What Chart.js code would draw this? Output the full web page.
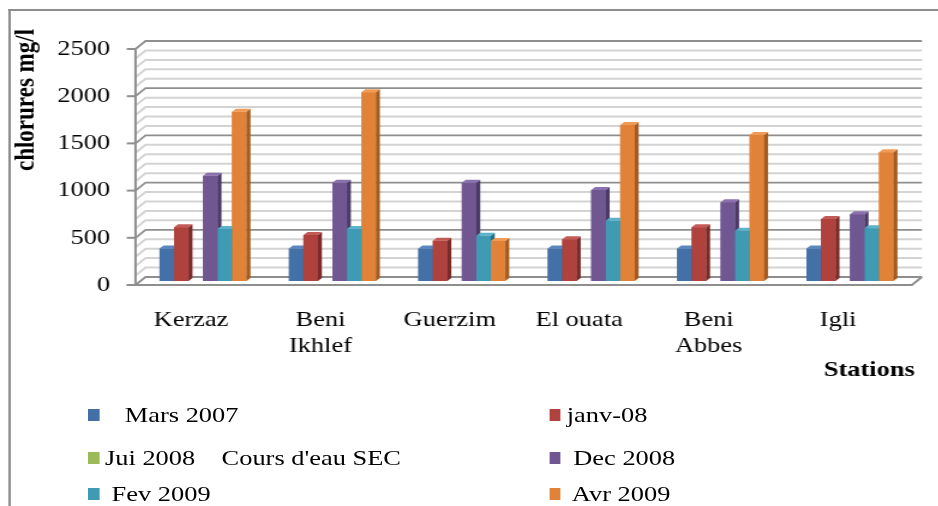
<!DOCTYPE html>
<html>
<head>
<meta charset="utf-8">
<script src="https://cdn.jsdelivr.net/npm/chart.js@4.4.1/dist/chart.umd.min.js"></script>
<style>
html, body { margin: 0; padding: 0; background: #fff; overflow: hidden; }
#wrap { position: relative; width: 782px; height: 506px; transform: scaleX(1.2); transform-origin: 0 0;
        font-family: "Liberation Serif", "Times New Roman", serif; }
#frame { position: absolute; left: 7px; top: 9px; right: -20px; bottom: -20px;
         border-left: 2px solid #8c8c8c; border-top: 2px solid #8c8c8c; }
canvas { position: absolute; left: 0; top: 0; }
.leg { position: absolute; display: flex; align-items: center; height: 26px; line-height: 26px;
       font-size: 22px; white-space: pre; color: #000; }
.leg i { display: inline-block; width: 9.75px; height: 11.7px; margin-right: 5px; }
</style>
</head>
<body>
<div id="wrap">
  <div id="frame"></div>
  <canvas id="chloChart" width="782" height="506"></canvas>
</div>
<script>
// Data
const stations = [['Kerzaz'], ['Beni', 'Ikhlef'], ['Guerzim'], ['El ouata'], ['Beni', 'Abbes'], ['Igli']];
const seriesNames = ['   Mars 2007', 'janv-08', "Jui 2008    Cours d'eau SEC", ' Dec 2008', ' Fev 2009', ' Avr 2009'];
const mars2007 = [345, 345, 345, 345, 345, 345];
const janv2008 = [569, 487, 427, 442, 569, 657];
const jui2008 = [null, null, null, null, null, null]; // cours d'eau sec
const dec2008 = [1115, 1041, 1041, 964, 834, 707];
const fev2009 = [551, 551, 480, 639, 533, 558];
const avr2009 = [1793, 1999, 424, 1653, 1547, 1363];
const yMax = 2500;
const yStep = 500;

// colours: front, side, top
const fronts = ['#4470a8', '#b0423e', '#9bbb59', '#715791', '#3f9ab3', '#e08339'];
const sides  = ['#2e4f7c', '#7a2b29', '#6c8a3a', '#4b3967', '#2a6c80', '#a55b1f'];
const tops   = ['#5b87bf', '#c45a56', '#afcc74', '#8a70ad', '#5bb2cb', '#f09b55'];

const FONT = '"Liberation Serif", "Times New Roman", serif';
Chart.defaults.font.family = FONT;
Chart.defaults.color = '#000';

const BACK_DX = 6, BACK_DY = -4, FRONT_DX = -2.35, FRONT_DY = 4;
const BAR_DX = 3.3, BAR_DY = 3;

// walls, floor and the fake 3D on the bars
const depth3d = {
    id: 'depth3d',
    beforeDatasetsDraw(chart) {
        const {ctx, chartArea: a, scales: {y}} = chart;
        const bL = a.left + BACK_DX, bR = a.right + BACK_DX;
        const fL = a.left + FRONT_DX, fR = a.right + FRONT_DX;
        ctx.save();
        ctx.lineCap = 'butt';
        for (let v = 0; v <= yMax; v += 100) {
            const py = y.getPixelForValue(v);
            const major = v % yStep === 0;
            ctx.strokeStyle = major ? '#8e8e8e' : '#d3d3d3';
            ctx.lineWidth = major ? 1.8 : 2;
            ctx.beginPath();
            ctx.moveTo(fL, py + FRONT_DY);
            ctx.lineTo(bL, py + BACK_DY);
            ctx.lineTo(bR, py + BACK_DY);
            ctx.stroke();
        }
        const p0 = y.getPixelForValue(0);
        const pTop = y.getPixelForValue(yMax);
        ctx.strokeStyle = '#8e8e8e';
        ctx.lineWidth = 2;
        // floor front edge and right side
        ctx.beginPath();
        ctx.moveTo(fL - 7.3, p0 + FRONT_DY);
        ctx.lineTo(fR, p0 + FRONT_DY);
        ctx.lineTo(bR, p0 + BACK_DY);
        ctx.stroke();
        // value axis
        ctx.beginPath();
        ctx.moveTo(fL, p0 + FRONT_DY);
        ctx.lineTo(fL, pTop + FRONT_DY);
        ctx.stroke();
        for (let v = 0; v <= yMax; v += yStep) {
            const py = y.getPixelForValue(v) + FRONT_DY;
            ctx.beginPath();
            ctx.moveTo(fL - 7.3, py);
            ctx.lineTo(fL, py);
            ctx.stroke();
        }
        ctx.restore();
    },
    afterDatasetsDraw(chart) {
        const {ctx} = chart;
        ctx.save();
        chart.data.datasets.forEach((ds, i) => {
            const meta = chart.getDatasetMeta(i);
            meta.data.forEach((bar, j) => {
                if (ds.data[j] == null) return;
                const {x, y, base, width} = bar.getProps(['x', 'y', 'base', 'width'], true);
                const l = x - width / 2, r = x + width / 2;
                ctx.fillStyle = fronts[i];
                ctx.fillRect(l, y, width, base - y);
                ctx.fillStyle = sides[i];
                ctx.beginPath();
                ctx.moveTo(r, y);
                ctx.lineTo(r + BAR_DX, y - BAR_DY);
                ctx.lineTo(r + BAR_DX, base - BAR_DY);
                ctx.lineTo(r, base);
                ctx.closePath();
                ctx.fill();
                ctx.fillStyle = tops[i];
                ctx.beginPath();
                ctx.moveTo(l, y);
                ctx.lineTo(l + BAR_DX, y - BAR_DY);
                ctx.lineTo(r + BAR_DX, y - BAR_DY);
                ctx.lineTo(r, y);
                ctx.closePath();
                ctx.fill();
            });
        });
        ctx.restore();
    },
    afterDraw(chart) {
        // y axis title sits higher than chart.js would put it
        const {ctx} = chart;
        ctx.save();
        ctx.translate(22.5, 100);
        ctx.rotate(-Math.PI / 2);
        ctx.font = 'bold 23px ' + FONT;
        ctx.fillStyle = '#000';
        ctx.textAlign = 'center';
        ctx.textBaseline = 'middle';
        ctx.fillText('chlorures mg/l', 0, 0);
        ctx.restore();
    }
};

const seriesData = [mars2007, janv2008, jui2008, dec2008, fev2009, avr2009];

const chart = new Chart(document.getElementById('chloChart'), {
    type: 'bar',
    data: {
        labels: stations,
        datasets: seriesData.map((d, i) => ({
            label: seriesNames[i],
            data: d,
            backgroundColor: fronts[i]
        }))
    },
    options: {
        responsive: false,
        animation: false,
        layout: { padding: { top: 45, right: 19.75, bottom: 121, left: 0 } },
        datasets: { bar: { categoryPercentage: 0.672, barPercentage: 1 } },
        plugins: { legend: { display: false }, tooltip: { enabled: false } },
        scales: {
            x: {
                grid: { display: false, drawTicks: false },
                border: { display: false },
                ticks: { font: { size: 22 }, color: '#000', padding: 26, labelOffset: -10, maxRotation: 0, autoSkip: false },
                title: { display: true, text: 'Stations', align: 'end', color: '#000',
                         font: { size: 22, weight: 'bold' }, padding: { top: 0, bottom: 1 } },
                afterFit: s => { s.height = 104; }
            },
            y: {
                min: 0,
                max: yMax,
                grid: { display: false, drawTicks: false },
                border: { display: false },
                ticks: { stepSize: yStep, font: { size: 22 }, color: '#000', padding: 23.5, labelOffset: 4,
                         callback: v => String(v) },
                afterFit: s => { s.width = 115.25; }
            }
        }
    },
    plugins: [depth3d]
});

// Legend, two columns like the original
const legendCols = [72.75, 457.5];
const legendRows = [415, 458, 494];
const wrap = document.getElementById('wrap');
chart.data.datasets.forEach((ds, i) => {
    const item = document.createElement('div');
    item.className = 'leg';
    item.style.left = legendCols[i % 2] + 'px';
    item.style.top = (legendRows[Math.floor(i / 2)] - 13) + 'px';
    const box = document.createElement('i');
    box.style.background = fronts[i];
    item.appendChild(box);
    item.appendChild(document.createTextNode(ds.label));
    wrap.appendChild(item);
});
</script>
</body>
</html>
